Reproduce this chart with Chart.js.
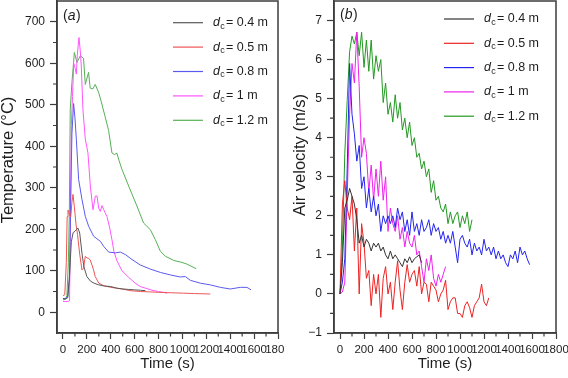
<!DOCTYPE html>
<html>
<head>
<meta charset="utf-8">
<script src="https://cdn.jsdelivr.net/npm/chart.js@4.4.1/dist/chart.umd.min.js"></script>
<style>
    html, body { margin: 0; padding: 0; background: #fff; }
    #wrap { position: relative; width: 568px; height: 378px; }
    canvas { position: absolute; top: 0; }
    #chart-a { left: 0; }
    #chart-b { left: 284px; }
</style>
</head>
<body>
<div id="wrap">
    <canvas id="chart-a" width="284" height="378"></canvas>
    <canvas id="chart-b" width="284" height="378"></canvas>
</div>
<script>
// 凡例 (d_c)
const diameters = ['0.4', '0.5', '0.8', '1', '1.2'];

// (a) 温度
const tempTime04 = [0, 20, 40, 55, 70, 85, 100, 115, 125, 140, 160, 175, 200, 230, 260, 300, 350, 400, 450, 500, 550, 600, 650, 690];
const temp04 = [33, 32, 35, 90, 170, 192, 195, 200, 203, 191, 140, 110, 86, 75, 70, 66, 63, 62, 58, 56, 55, 54, 53, 52];

const tempTime05 = [0, 15, 28, 35, 42, 55, 65, 75, 84, 95, 110, 122, 140, 159, 172, 187, 201, 215, 228, 245, 256, 270, 285, 300, 340, 400, 450, 500, 560, 650, 730, 800, 900, 1010, 1100, 1233];
const temp05 = [40, 42, 120, 230, 246, 235, 230, 265, 284, 255, 210, 187, 140, 102, 106, 135, 131, 130, 126, 112, 102, 86, 78, 70, 64, 60, 58, 56, 52, 50, 49, 48, 47, 46, 45, 44];

const tempTime08 = [0, 20, 40, 55, 65, 75, 89, 100, 112, 131, 159, 187, 215, 257, 313, 340, 382, 438, 480, 522, 578, 647, 731, 815, 898, 982, 1024, 1066, 1150, 1233, 1317, 1400, 1484, 1540, 1574];
const temp08 = [33, 33, 38, 80, 280, 430, 503, 470, 417, 320, 272, 231, 207, 183, 171, 159, 145, 143, 145, 139, 127, 114, 104, 96, 90, 85, 86, 77, 70, 66, 60, 56, 60, 60, 54];

const tempTime10 = [0, 20, 40, 55, 62, 70, 80, 90, 100, 112, 120, 134, 145, 153, 167, 187, 209, 229, 251, 265, 271, 285, 299, 312, 327, 340, 354, 368, 390, 410, 427, 452, 494, 550, 605, 647, 703, 745, 800, 840, 870];
const temp10 = [26, 26, 26, 28, 200, 450, 520, 600, 590, 574, 620, 662, 630, 594, 489, 417, 384, 304, 247, 270, 280, 280, 251, 243, 257, 248, 239, 231, 205, 175, 146, 124, 100, 84, 70, 62, 57, 53, 50, 48, 46];

const tempTime12 = [0, 20, 33, 45, 53, 61, 75, 89, 95, 117, 145, 172, 187, 214, 228, 250, 270, 298, 320, 354, 382, 410, 430, 452, 470, 494, 550, 619, 675, 731, 773, 815, 857, 926, 996, 1038, 1080, 1115];
const temp12 = [30, 31, 40, 120, 231, 489, 554, 602, 626, 602, 618, 612, 549, 578, 540, 538, 549, 530, 508, 470, 438, 384, 380, 383, 365, 344, 304, 256, 215, 199, 175, 147, 135, 125, 120, 116, 110, 105];

// (b) 風速
const velTime = [0, 20, 40, 60, 80, 100, 120, 140, 160, 180, 200, 220, 240, 260, 280, 300, 320, 340, 360, 380,
    400, 420, 440, 460, 480, 500, 520, 540, 560, 580, 600, 620, 640, 660, 680, 700, 720, 740, 760, 780,
    800, 820, 840, 860, 880, 900, 920, 940, 960, 980, 1000, 1020, 1040, 1060, 1080, 1100, 1120, 1140, 1160, 1180,
    1200, 1220, 1240, 1260, 1280, 1300, 1320, 1340, 1360, 1380, 1400, 1420, 1440, 1460, 1480, 1500, 1520, 1540, 1560, 1580];

const vel04 = [0.0, 0.8, 2.2, 2.4, 2.7, 2.5, 2.3, 1.9, 1.3, 1.5,
    1.2, 1.4, 1.3, 1.1, 1.3, 1.2, 1.3, 1.1, 1.2, 1.0,
    0.9, 1.1, 0.9, 1.0, 0.9, 0.8, 0.7, 0.9, 0.8, 0.95,
    0.8, 0.9, 0.95, 1.0, 0.8];

const vel05 = [0.0, 2.3, 2.9, 2.2, 1.9, 2.5, 1.1, 2.2, 0.0, 1.8,
    1.3, 0.4, 0.6, -0.3, 0.5, 0.0, 0.5, -0.6, 0.4, 0.7,
    0.0, 0.3, -0.4, 0.3, 0.85, 0.1, -0.4, 0.3, 0.75, 0.3,
    0.5, 0.6, 0.2, 0.7, 0.0, 0.3, 0.25, -0.2, 0.3, 0.2,
    0.1, -0.2, 0.0, 0.1, 0.35, -0.4, -0.2, -0.1, -0.1, -0.5,
    -0.5, -0.6, -0.3, -0.2, -0.35, -0.6, -0.3, -0.2, -0.1, 0.25,
    -0.2, -0.3, -0.1];

const vel08 = [0.0, 0.3, 0.9, 3.2, 5.9, 4.6, 4.1, 3.4, 3.8, 2.7,
    3.0, 2.2, 2.7, 2.1, 2.5, 2.0, 2.3, 1.6, 2.0, 1.8,
    2.0, 1.8, 2.0, 1.7, 2.2, 1.9, 2.1, 1.6, 1.9, 1.5,
    2.1, 1.6, 1.8, 1.5, 1.9, 1.6, 1.7, 1.9, 1.5, 1.8,
    1.6, 1.7, 1.4, 1.6, 1.3, 1.5, 1.3, 1.6, 1.2, 0.8,
    1.4, 1.5, 1.3, 1.2, 1.4, 1.0, 1.3, 1.1, 1.2, 1.0,
    1.4, 1.1, 1.2, 1.0, 1.2, 0.9, 1.1, 0.9, 1.0, 0.8,
    0.7, 1.0, 0.9, 1.1, 0.8, 1.2, 1.0, 1.1, 0.9, 0.75];

const vel10 = [0.0, 0.05, 0.3, 2.5, 4.6, 5.9, 5.4, 6.7, 5.3, 3.5,
    4.0, 3.6, 2.6, 3.3, 2.4, 3.2, 2.5, 3.4, 2.4, 3.0,
    1.6, 2.2, 1.8, 1.6, 2.0, 1.4, 1.7, 1.2, 1.6, 1.3,
    1.2, 1.5, 1.0, 1.1, 0.7, 0.3, 0.9, 0.6, 1.0, 0.4,
    0.2, 0.5, 0.3, 0.5, 0.7];

const vel12 = [0.0, 1.2, 3.6, 4.95, 6.2, 6.6, 6.4, 6.7, 6.1, 6.7,
    5.8, 6.5, 5.7, 6.5, 5.5, 6.1, 5.7, 6.0, 4.9, 5.4,
    4.6, 4.9, 4.4, 5.1, 4.5, 4.9, 4.2, 4.5, 4.0, 4.4,
    3.8, 4.0, 3.5, 3.6, 3.2, 3.4, 3.0, 3.2, 2.6, 2.9,
    2.4, 2.5, 2.2, 2.1, 2.3, 1.8, 2.1, 1.8, 2.0, 2.1,
    1.7, 2.0, 1.8, 2.1, 1.6, 1.9];

// 目盛り
const timeTicks = [0, 200, 400, 600, 800, 1000, 1200, 1400, 1600, 1800];
const timeMinor = [100, 300, 500, 700, 900, 1100, 1300, 1500, 1700];
const tempTicks = [0, 100, 200, 300, 400, 500, 600, 700];
const tempMinor = [50, 150, 250, 350, 450, 550, 650];
const velTicks = [-1, 0, 1, 2, 3, 4, 5, 6, 7];
const velMinor = [-0.5, 0.5, 1.5, 2.5, 3.5, 4.5, 5.5, 6.5];

const FONT = '"Liberation Sans", Arial, sans-serif';
const AXIS_COLOR = '#3c3c3c';
const TEXT_COLOR = '#1e1e1e';

function toPoints(times, values) {
    return values.map((v, i) => ({ x: times[i], y: v }));
}

function makeDataset(i, times, values, color) {
    return {
        label: 'd_c = ' + diameters[i] + ' m',
        data: toPoints(times, values),
        borderColor: color,
        borderWidth: 1,
        pointRadius: 0,
        tension: 0,
        fill: false
    };
}

function tickLabel(v) {
    return String(v).replace('-', '\u2212');
}

// 枠・補助目盛り・パネル記号・縦軸タイトル・凡例
const decorPlugin = {
    id: 'decor',
    afterDraw(chart, args, opts) {
        const { ctx, chartArea: a, scales } = chart;
        ctx.save();

        ctx.strokeStyle = AXIS_COLOR;
        ctx.lineWidth = 1.5;
        ctx.strokeRect(a.left, a.top, a.right - a.left, a.bottom - a.top);

        ctx.lineWidth = 1.2;
        ctx.beginPath();
        opts.xMinor.forEach(v => {
            const x = scales.x.getPixelForValue(v);
            ctx.moveTo(x, a.bottom);
            ctx.lineTo(x, a.bottom + 3.5);
        });
        opts.yMinor.forEach(v => {
            const y = scales.y.getPixelForValue(v);
            ctx.moveTo(a.left, y);
            ctx.lineTo(a.left - 4, y);
        });
        ctx.stroke();

        ctx.fillStyle = TEXT_COLOR;
        ctx.textBaseline = 'middle';
        ctx.textAlign = 'left';

        // (a) / (b)
        let px = a.left + 6;
        ctx.font = '14px ' + FONT;
        ctx.fillText('(', px, opts.panelY);
        px += ctx.measureText('(').width;
        ctx.font = 'italic 14px ' + FONT;
        ctx.fillText(opts.panel, px, opts.panelY);
        px += ctx.measureText(opts.panel).width + 0.5;
        ctx.font = '14px ' + FONT;
        ctx.fillText(')', px, opts.panelY);

        // 縦軸タイトル
        ctx.save();
        ctx.translate(opts.yTitleX, opts.yTitleY);
        ctx.rotate(-Math.PI / 2);
        ctx.textAlign = 'center';
        ctx.font = '16.5px ' + FONT;
        ctx.fillText(opts.yTitle, 0, 0);
        ctx.restore();

        // 凡例
        chart.data.datasets.forEach((ds, i) => {
            const y = opts.legendTop + i * opts.legendGap;
            ctx.strokeStyle = ds.borderColor;
            ctx.lineWidth = 1.2;
            ctx.beginPath();
            ctx.moveTo(opts.legendX, y);
            ctx.lineTo(opts.legendX + 30, y);
            ctx.stroke();

            let x = opts.legendX + 40;
            ctx.font = 'italic 12.5px ' + FONT;
            ctx.fillText('d', x, y);
            x += ctx.measureText('d').width + 0.3;
            ctx.font = '9px ' + FONT;
            ctx.fillText('c', x, y + 3.5);
            x += ctx.measureText('c').width + 1.2;
            ctx.font = '12.5px ' + FONT;
            ctx.fillText('= ' + diameters[i] + ' m', x, y);
        });

        ctx.restore();
    }
};

function buildChart(canvasId, cfg) {
    return new Chart(document.getElementById(canvasId), {
        type: 'line',
        data: { datasets: cfg.datasets },
        plugins: [decorPlugin],
        options: {
            responsive: false,
            animation: false,
            devicePixelRatio: 1,
            layout: { padding: cfg.padding },
            plugins: {
                legend: { display: false },
                tooltip: { enabled: false },
                decor: cfg.decor
            },
            scales: {
                x: {
                    type: 'linear',
                    min: -50,
                    max: 1800,
                    afterBuildTicks: s => { s.ticks = timeTicks.map(v => ({ value: v })); },
                    afterFit: s => {
                        s.height = 45;
                        s.paddingLeft = 0;
                        s.paddingRight = 0;
                    },
                    ticks: {
                        autoSkip: false,
                        maxRotation: 0,
                        minRotation: 0,
                        padding: 3.5,
                        color: TEXT_COLOR,
                        font: { family: FONT, size: 11.5 },
                        callback: tickLabel
                    },
                    grid: { drawOnChartArea: false, tickLength: 6, tickColor: AXIS_COLOR, tickWidth: 1.2 },
                    border: { color: AXIS_COLOR, width: 1.5 },
                    title: {
                        display: true,
                        text: 'Time (s)',
                        color: TEXT_COLOR,
                        font: { family: FONT, size: 15, lineHeight: 1.2 },
                        padding: { top: 0, bottom: 5 }
                    }
                },
                y: {
                    type: 'linear',
                    min: cfg.yMin,
                    max: cfg.yMax,
                    afterBuildTicks: s => { s.ticks = cfg.yTicks.map(v => ({ value: v })); },
                    afterFit: s => {
                        s.width = cfg.yWidth;
                        s.paddingTop = 0;
                        s.paddingBottom = 0;
                    },
                    ticks: {
                        autoSkip: false,
                        padding: 5,
                        color: TEXT_COLOR,
                        font: { family: FONT, size: 12 },
                        callback: tickLabel
                    },
                    grid: { drawOnChartArea: false, tickLength: 7, tickColor: AXIS_COLOR, tickWidth: 1.2 },
                    border: { color: AXIS_COLOR, width: 1.5 },
                    title: { display: false }
                }
            }
        }
    });
}

function init() {
    buildChart('chart-a', {
        datasets: [
            makeDataset(0, tempTime04, temp04, '#585858'),
            makeDataset(1, tempTime05, temp05, '#ee5555'),
            makeDataset(2, tempTime08, temp08, '#5a5af0'),
            makeDataset(3, tempTime10, temp10, '#ff55ff'),
            makeDataset(4, tempTime12, temp12, '#55b055')
        ],
        padding: { left: 0, right: 6, top: 1, bottom: 0 },
        yMin: -50,
        yMax: 750,
        yTicks: tempTicks,
        yWidth: 57,
        decor: {
            panel: 'a', panelY: 16,
            xMinor: timeMinor, yMinor: tempMinor,
            yTitle: 'Temperature (\u00B0C)', yTitleX: 8, yTitleY: 160,
            legendX: 173, legendTop: 22.7, legendGap: 24.4
        }
    });

    buildChart('chart-b', {
        datasets: [
            makeDataset(0, velTime, vel04, '#333333'),
            makeDataset(1, velTime, vel05, '#ee2222'),
            makeDataset(2, velTime, vel08, '#2424ee'),
            makeDataset(3, velTime, vel10, '#ee22ee'),
            makeDataset(4, velTime, vel12, '#229922')
        ],
        padding: { left: 0, right: 12, top: 1, bottom: 0 },
        yMin: -1,
        yMax: 7.5,
        yTicks: velTicks,
        yWidth: 50,
        decor: {
            panel: 'b', panelY: 15,
            xMinor: timeMinor, yMinor: velMinor,
            yTitle: 'Air velocity (m/s)', yTitleX: 16.5, yTitleY: 155,
            legendX: 160, legendTop: 19, legendGap: 24.3
        }
    });
}

window.addEventListener('load', init);
</script>
</body>
</html>
